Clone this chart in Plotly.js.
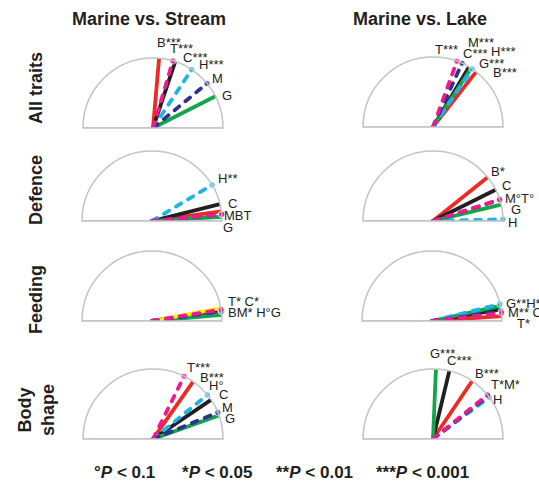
<!DOCTYPE html>
<html><head><meta charset="utf-8">
<script src="https://cdn.plot.ly/plotly-3.0.1.min.js"></script>
<style>
html,body{margin:0;padding:0;background:#fff;}
.js-line{stroke-linecap:round;}
</style></head>
<body><div id="chart" style="width:539px;height:484px;"></div>
<script>
// ---------------- DATA ----------------
// trait series (drawing order bottom -> top); 'Y' is the unlabeled yellow vector
const traits = ['B', 'C', 'G', 'H', 'Y', 'M', 'T'];
const columnTitles = ['Marine vs. Stream', 'Marine vs. Lake'];
const rowTitles = ['All traits', 'Defence', 'Feeding', 'Body<br>shape'];

// angles (degrees) of each trait vector, order as in `traits`
const streamAllAngles     = [85, 71.5, 27, 56.5, null, 39.5, 73.5];
const lakeAllAngles       = [52, 59, 57, 56, null, 65.5, 70];
const streamDefenceAngles = [8, 14, 3.5, 31, null, 5.5, 5.5];
const lakeDefenceAngles   = [38.7, 26.5, 13.5, 1.4, null, 17.6, 17.8];
const streamFeedingAngles = [7.5, 9.3, 5, 8, 10.5, 8, 9.5];
const lakeFeedingAngles   = [4, 9.5, 12.5, 14, null, 8, 6.5];
const streamBodyAngles    = [55, 34, 19.7, 39, null, 22.2, 63.6];
const lakeBodyAngles      = [56, 76.5, 87.6, 36.5, null, 38, 39];

// vector lengths (fraction of the unit semicircle)
const streamAllLengths     = [1, 1, 1, 1, null, 1, 1];
const lakeAllLengths       = [1, 1, 1, 1, null, 1, 1];
const streamDefenceLengths = [1, 1, 1, 1, null, 1, 1];
const lakeDefenceLengths   = [1, 1, 1, 1, null, 1, 1];
const streamFeedingLengths = [1, 1, 1, 1, 1, 1, 1];
const lakeFeedingLengths   = [1, 1, 1, 1, null, 1, 1];
const streamBodyLengths    = [1, 1, 1, 1, null, 1, 1];
const lakeBodyLengths      = [1, 1, 1, 1, null, 1, 1];

// labels with significance
const streamAllLabels     = ['B***', 'T***', 'C***', 'H***', 'M', 'G'];
const lakeAllLabels       = ['T***', 'M***', 'C***', 'H***', 'G***', 'B***'];
const streamDefenceLabels = ['H**', 'C', 'MBT', 'G'];
const lakeDefenceLabels   = ['B*', 'C', 'M°T°', 'G', 'H'];
const streamFeedingLabels = ['T* C*', 'BM* H°G'];
const lakeFeedingLabels   = ['G**H**', 'M** C*', 'T*'];
const streamBodyLabels    = ['T***', 'B***', 'H°', 'C', 'M', 'G'];
const lakeBodyLabels      = ['G***', 'C***', 'B***', 'T*M*', 'H'];

const legendTexts = ['°<i>P</i> < 0.1', '*<i>P</i> < 0.05', '**<i>P</i> < 0.01', '***<i>P</i> < 0.001'];

// ---------------- LAYOUT / STYLE ----------------
const W = 539, H = 484, R = 70;
const panelAngles = [streamAllAngles, lakeAllAngles, streamDefenceAngles, lakeDefenceAngles,
                     streamFeedingAngles, lakeFeedingAngles, streamBodyAngles, lakeBodyAngles];
const panelLengths = [streamAllLengths, lakeAllLengths, streamDefenceLengths, lakeDefenceLengths,
                      streamFeedingLengths, lakeFeedingLengths, streamBodyLengths, lakeBodyLengths];
const panelLabels = [streamAllLabels, lakeAllLabels, streamDefenceLabels, lakeDefenceLabels,
                     streamFeedingLabels, lakeFeedingLabels, streamBodyLabels, lakeBodyLabels];
const panelCenters = [[153,128],[433,127],[152,221],[433,221],[152,321],[432,321],[153,439],[433,439]];
// label anchor points (left edge, vertical centre) in pixels
const labelPos = [
  [[155,43],[168,48],[181,57],[197,64],[210,79],[220,95.5]],
  [[433,49],[466,42],[461,54],[489,52],[477,63],[491,72.5]],
  [[216,179],[226,203],[222,215],[221,227]],
  [[489,172],[500,185],[503,198],[509,209],[506,222]],
  [[226,301],[226,312.5]],
  [[504,303],[506,312],[515,323]],
  [[185,367],[198,377],[207,385.5],[217,394.5],[220,407],[223,418]],
  [[428,353],[445,360],[473,373],[489,384],[491,399.5]]
];
const styles = {
  B: {color:'#EE2A24', dash:'solid', dot:false},
  C: {color:'#231F20', dash:'solid', dot:false},
  G: {color:'#12A54A', dash:'solid', dot:false},
  H: {color:'#1EB4E8', dash:'6px,8px', dot:true},
  Y: {color:'#FFF000', dash:'solid', dot:false},
  M: {color:'#2E3192', dash:'6px,8px', dot:true},
  T: {color:'#EC1C8C', dash:'6px,8px', dot:true}
};
const arcColor = '#BEC4CA';
const FONT = 'Liberation Sans, Arial, Helvetica, sans-serif';

const data = [];
const layout = {
  width: W, height: H, margin: {l:0, r:0, t:0, b:0},
  paper_bgcolor: '#fff', showlegend: false, annotations: []
};

panelCenters.forEach((c, i) => {
  const key = i === 0 ? 'polar' : 'polar' + (i + 1);
  layout[key] = {
    domain: {x: [(c[0]-R)/W, (c[0]+R)/W], y: [1 - c[1]/H, 1 - (c[1]-R)/H]},
    sector: [0, 180],
    bgcolor: 'rgba(0,0,0,0)',
    radialaxis: {visible: false, range: [0, 1]},
    angularaxis: {showline: true, linecolor: arcColor, linewidth: 1.5, showgrid: false,
                  ticks: '', showticklabels: false}
  };
  // baseline (diameter)
  data.push({type:'scatterpolar', subplot: key, r:[1,0,1], theta:[0,0,180], mode:'lines',
             line:{color: arcColor, width:1.5}, hoverinfo:'skip', cliponaxis:false});
  traits.forEach((t, j) => {
    const a = panelAngles[i][j];
    if (a === null || a === undefined) return;
    const len = panelLengths[i][j];
    const st = styles[t];
    data.push({
      type:'scatterpolar', subplot: key, name: t,
      r:[0, len], theta:[a, a],
      mode: st.dot ? 'lines+markers' : 'lines',
      line:{color: st.color, width: 3.8, dash: st.dash},
      marker:{color: st.color, size:[0, 6.5]},
      cliponaxis:false, hoverinfo:'name'
    });
  });
  panelLabels[i].forEach((txt, k) => {
    const p = labelPos[i][k];
    layout.annotations.push({
      text: txt, xref:'paper', yref:'paper', x: p[0]/W, y: 1 - p[1]/H,
      xanchor:'left', yanchor:'middle', showarrow:false,
      font:{family: FONT, size: 13, color:'#231F20'}
    });
  });
});

// column titles
[[149,19],[420,19]].forEach((p, i) => {
  layout.annotations.push({text:'<b>' + columnTitles[i] + '</b>', xref:'paper', yref:'paper',
    x:p[0]/W, y:1-p[1]/H, xanchor:'center', yanchor:'middle', showarrow:false,
    font:{family: FONT, size:18, color:'#231F20'}});
});
// row titles
[[36,88],[36,190],[36,300],[36,410]].forEach((p, i) => {
  layout.annotations.push({text:'<b>' + rowTitles[i] + '</b>', xref:'paper', yref:'paper',
    x:p[0]/W, y:1-p[1]/H, xanchor:'center', yanchor:'middle', showarrow:false, textangle:-90,
    font:{family: FONT, size:18, color:'#231F20'}});
});
// significance legend
[[124,472],[217,472],[314,472],[422,472]].forEach((p, i) => {
  layout.annotations.push({text:'<b>' + legendTexts[i] + '</b>', xref:'paper', yref:'paper',
    x:p[0]/W, y:1-p[1]/H, xanchor:'center', yanchor:'middle', showarrow:false,
    font:{family: FONT, size:17, color:'#231F20'}});
});

Plotly.newPlot('chart', data, layout, {staticPlot:true, displayModeBar:false});
</script>
</body></html>
